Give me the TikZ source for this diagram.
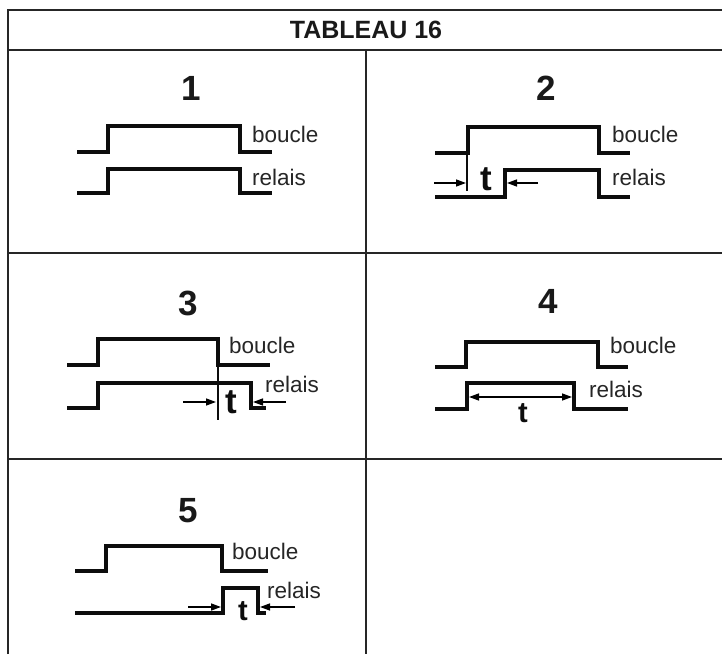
\documentclass[tikz,border=0pt]{standalone}
\usepackage{fontspec}
\setmainfont{Liberation Sans}
\usetikzlibrary{arrows.meta}
\begin{document}
\begin{tikzpicture}[x=1pt,y=-1pt,
  frame/.style={draw=black!85,line width=1.2pt},
  wave/.style={line width=3.4pt,line join=miter,color=black!95},
  guide/.style={line width=1.4pt,color=black!95},
  dimarrow/.style={line width=1.4pt,-{Triangle[length=10pt,width=7pt]}},
  dimboth/.style={line width=1.4pt,{Triangle[length=10pt,width=7pt]}-{Triangle[length=10pt,width=7pt]}},
  title/.style={inner sep=0pt,anchor=base,font=\fontsize{25}{28}\selectfont\bfseries,text=black!90},
  num/.style={inner sep=0pt,anchor=base,font=\fontsize{35}{38}\selectfont\bfseries,text=black!90},
  lbl/.style={inner sep=0pt,anchor=base west,font=\fontsize{22.5}{25}\selectfont,text=black!85},
  tbig/.style={inner sep=0pt,anchor=base,font=\fontsize{35}{38}\selectfont\bfseries,text=black!95},
  tsmall/.style={inner sep=0pt,anchor=base,font=\fontsize{29}{32}\selectfont\bfseries,text=black!95}]
\useasboundingbox[fill=white] (0,0) rectangle (722,654);
% frame
\draw[frame] (8,654) -- (8,10) -- (722,10);
\draw[frame] (8,50) -- (722,50);
\draw[frame] (366,50) -- (366,654);
\draw[frame] (8,253) -- (722,253);
\draw[frame] (8,459) -- (722,459);
\node[title] (ttl) at (366,38) {TABLEAU 16};
% ---- panel 1
\node[num] (n1) at (191,100) {1};
\draw[wave] (77,152) -- (108,152) -- (108,126) -- (240,126) -- (240,152) -- (272,152);
\draw[wave] (77,193) -- (108,193) -- (108,169) -- (240,169) -- (240,193) -- (272,193);
\node[lbl] (b1) at (252,142) {boucle};
\node[lbl] (r1) at (252,185) {relais};
% ---- panel 2
\node[num] (n2) at (546,100) {2};
\draw[wave] (435,153) -- (468,153) -- (468,127) -- (599,127) -- (599,153) -- (630,153);
\draw[wave] (435,197) -- (505,197) -- (505,170) -- (599,170) -- (599,197) -- (630,197);
\coordinate (g2a) at (467,153);
\coordinate (g2b) at (467,191);
\draw[guide] (g2a) -- (g2b);
\coordinate (a2s) at (434,183);
\coordinate (a2e) at (466,183);
\draw[dimarrow] (a2s) -- (a2e);
\coordinate (c2s) at (538,183);
\coordinate (c2e) at (507,183);
\draw[dimarrow] (c2s) -- (c2e);
\node[tbig] (t2) at (486,190) {t};
\node[lbl] (b2) at (612,142) {boucle};
\node[lbl] (r2) at (612,185) {relais};
% ---- panel 3
\node[num] (n3) at (188,315) {3};
\draw[wave] (67,365) -- (98,365) -- (98,339) -- (218,339) -- (218,365) -- (270,365);
\draw[wave] (67,408) -- (98,408) -- (98,383) -- (251,383) -- (251,408) -- (266,408);
\coordinate (g3a) at (218,365);
\coordinate (g3b) at (218,420);
\draw[guide] (g3a) -- (g3b);
\coordinate (a3s) at (183,402);
\coordinate (a3e) at (216,402);
\draw[dimarrow] (a3s) -- (a3e);
\coordinate (c3s) at (286,402);
\coordinate (c3e) at (253,402);
\draw[dimarrow] (c3s) -- (c3e);
\node[tbig] (t3) at (231,413) {t};
\node[lbl] (b3) at (229,353) {boucle};
\node[lbl] (r3) at (265,392) {relais};
% ---- panel 4
\node[num] (n4) at (548,313) {4};
\draw[wave] (435,367) -- (466,367) -- (466,342) -- (598,342) -- (598,367) -- (628,367);
\draw[wave] (435,409) -- (467,409) -- (467,383) -- (574,383) -- (574,409) -- (628,409);
\coordinate (d4s) at (469,397);
\coordinate (d4e) at (572,397);
\draw[dimboth] (d4s) -- (d4e);
\node[tsmall] (t4) at (523,422) {t};
\node[lbl] (b4) at (610,353) {boucle};
\node[lbl] (r4) at (589,397) {relais};
% ---- panel 5
\node[num] (n5) at (188,522) {5};
\draw[wave] (75,571) -- (106,571) -- (106,546) -- (222,546) -- (222,571) -- (268,571);
\draw[wave] (75,613) -- (223,613) -- (223,588) -- (258,588) -- (258,613) -- (266,613);
\coordinate (a5s) at (188,607);
\coordinate (a5e) at (221,607);
\draw[dimarrow] (a5s) -- (a5e);
\coordinate (c5s) at (295,607);
\coordinate (c5e) at (260,607);
\draw[dimarrow] (c5s) -- (c5e);
\node[tsmall] (t5) at (243,620) {t};
\node[lbl] (b5) at (232,559) {boucle};
\node[lbl] (r5) at (267,598) {relais};
\end{tikzpicture}
\end{document}
